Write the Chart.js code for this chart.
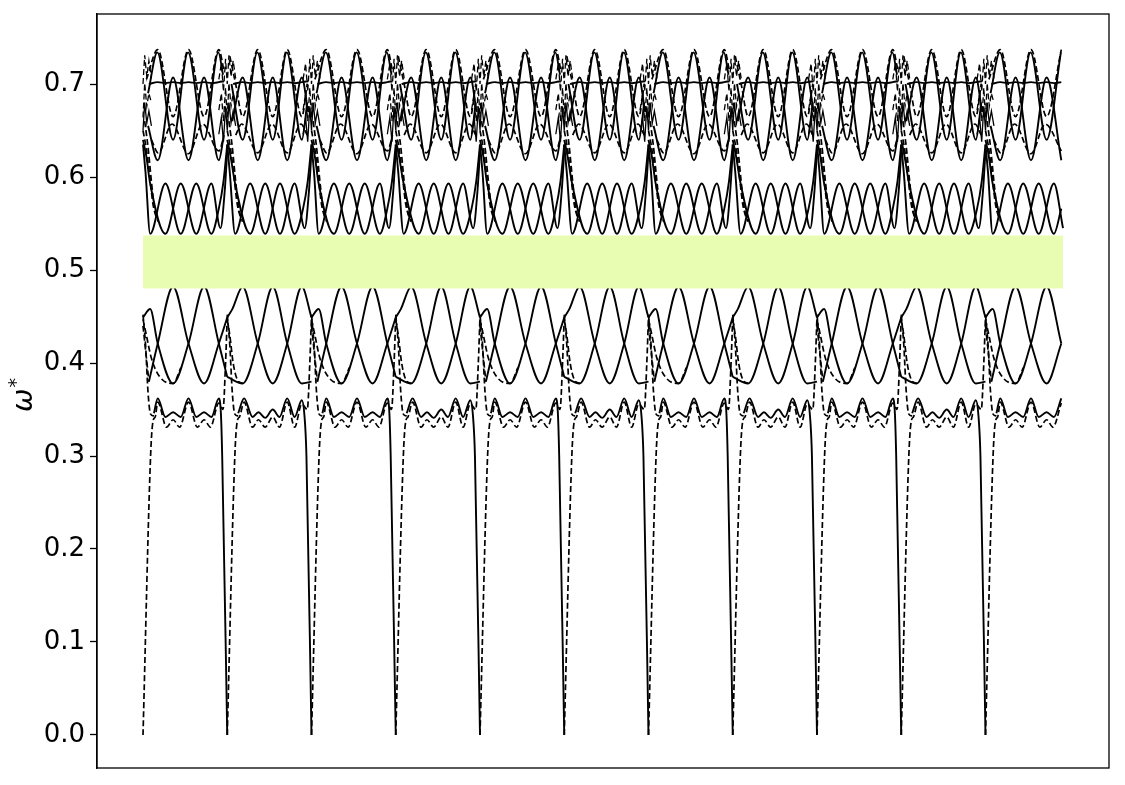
<!DOCTYPE html>
<html>
<head>
<meta charset="utf-8">
<script src="https://cdn.jsdelivr.net/npm/chart.js@4.4.1/dist/chart.umd.min.js"></script>
<style>
html,body{margin:0;padding:0;background:#fff;}
#wrap{width:1125px;height:785px;position:relative;}
</style>
</head>
<body>
<div id="wrap"><canvas id="c"></canvas></div>
<script>
// ---------------- DATA ----------------
// x unit = one repeating cell; 11 cells, alternating shapes A and B; data ends at 10.92
const CELL_TYPES = ['A','B','A','B','A','B','A','B','A','B','A'];
const X_END = 10.92;
const Y_TICKS = [0.0, 0.1, 0.2, 0.3, 0.4, 0.5, 0.6, 0.7];
const GAP_BAND = [0.48, 0.537];   // shaded band (low, high)
const Y_LABEL = ['ω', '*'];       // symbol and its superscript

// Cell A bands: [t within cell, omega*]
const A_TD  = [[0.04,0.705],[0.175,0.737],[0.357,0.665],[0.54,0.737],[0.725,0.665],[0.9,0.737],[0.96,0.715]];
const A_TS  = [[0.06,0.69],[0.17,0.734],[0.357,0.64],[0.535,0.734],[0.725,0.64],[0.895,0.734],[0.95,0.71]];
const A_F   = [[0.07,0.70],[0.175,0.702],[0.266,0.701],[0.357,0.702],[0.448,0.701],[0.54,0.702],[0.632,0.701],[0.725,0.702],[0.812,0.701],[0.9,0.702],[0.96,0.703]];
const A_M1  = [[0.06,0.655],[0.175,0.618],[0.357,0.707],[0.54,0.618],[0.725,0.707],[0.9,0.618],[0.96,0.645]];
const A_H   = [[0.1,0.64],[0.18,0.626],[0.345,0.657],[0.54,0.625],[0.71,0.657],[0.9,0.628],[0.95,0.64]];
const A_B1  = [[0,0.635],[0.03,0.605],[0.085,0.539],[0.266,0.593],[0.448,0.539],[0.632,0.593],[0.812,0.539],[0.9,0.566],[0.955,0.595],[1.0,0.635]];
const A_B2  = [[0,0.64],[0.04,0.622],[0.085,0.593],[0.266,0.539],[0.448,0.593],[0.632,0.539],[0.812,0.593],[0.92,0.545],[0.97,0.585],[1.0,0.628]];
const A_S1  = [[0,0.449],[0.085,0.458],[0.175,0.421],[0.357,0.378],[0.54,0.421],[0.725,0.482],[0.9,0.421],[1.0,0.385]];
const A_S2a = [[0,0.44],[0.035,0.41],[0.07,0.38]];
const A_S2  = [[0.07,0.38],[0.175,0.421],[0.357,0.482],[0.54,0.421],[0.725,0.378],[0.9,0.421],[1.0,0.449]];
const A_DL  = [[0,0.447],[0.04,0.43],[0.1,0.405],[0.2,0.385],[0.357,0.378],[0.45,0.395]];
const A_W1  = [[0.13,0.346],[0.175,0.362],[0.266,0.342],[0.357,0.347],[0.448,0.342],[0.54,0.362],[0.632,0.342],[0.725,0.347],[0.812,0.342],[0.9,0.362],[0.925,0.345],[0.94,0.30],[1.0,0.0]];
const A_W2  = [[0,0.0],[0.09,0.30],[0.12,0.338],[0.145,0.342],[0.175,0.358],[0.28,0.331],[0.357,0.339],[0.435,0.331],[0.54,0.358],[0.645,0.331],[0.725,0.339],[0.8,0.331],[0.9,0.357],[0.95,0.35],[0.98,0.40],[1.0,0.45]];

// Cell B bands
const B_TD  = [[0.03,0.73],[0.1,0.70],[0.183,0.665],[0.362,0.737],[0.54,0.665],[0.712,0.737],[0.885,0.665],[0.95,0.70]];
const B_TS  = [[0.05,0.70],[0.183,0.64],[0.357,0.734],[0.54,0.64],[0.707,0.734],[0.885,0.64],[0.95,0.68]];
const B_F   = [[0.07,0.70],[0.183,0.702],[0.272,0.701],[0.362,0.702],[0.451,0.701],[0.54,0.702],[0.626,0.701],[0.712,0.702],[0.80,0.701],[0.885,0.702],[0.96,0.703]];
const B_M1  = [[0.06,0.66],[0.183,0.707],[0.362,0.618],[0.54,0.707],[0.712,0.618],[0.885,0.707],[0.96,0.67]];
const B_H   = [[0.1,0.645],[0.17,0.657],[0.362,0.626],[0.53,0.657],[0.712,0.626],[0.875,0.657],[0.95,0.645]];
const B_B1  = [[0,0.635],[0.03,0.605],[0.093,0.539],[0.272,0.593],[0.451,0.539],[0.626,0.593],[0.80,0.539],[0.9,0.566],[0.955,0.595],[1.0,0.635]];
const B_B2  = [[0,0.64],[0.04,0.622],[0.093,0.593],[0.272,0.539],[0.451,0.593],[0.626,0.539],[0.80,0.593],[0.92,0.545],[0.97,0.585],[1.0,0.628]];
const B_P   = [[0,0.449],[0.06,0.458],[0.183,0.482],[0.362,0.421],[0.54,0.378],[0.712,0.421],[0.885,0.482],[1.0,0.449]];
const B_Q   = [[0,0.385],[0.183,0.378],[0.362,0.421],[0.54,0.482],[0.712,0.421],[0.885,0.378],[1.0,0.38]];
const B_DL  = [[0,0.447],[0.03,0.43],[0.07,0.40],[0.12,0.382],[0.183,0.378]];
const B_W1  = [[0.13,0.346],[0.2,0.362],[0.3,0.342],[0.37,0.347],[0.45,0.341],[0.54,0.35],[0.62,0.342],[0.712,0.362],[0.8,0.342],[0.885,0.36],[0.915,0.345],[0.94,0.30],[1.0,0.0]];
const B_W2  = [[0,0.0],[0.09,0.30],[0.12,0.338],[0.145,0.342],[0.2,0.358],[0.3,0.331],[0.37,0.339],[0.45,0.331],[0.54,0.342],[0.62,0.331],[0.712,0.358],[0.8,0.331],[0.885,0.356],[0.95,0.35],[0.98,0.40],[1.0,0.45]];

// Shared cell-start drops
const DD1   = [[0,0.65],[0.04,0.63],[0.08,0.60],[0.12,0.57],[0.16,0.556]];
const DD2   = [[0.02,0.66],[0.06,0.632],[0.1,0.595],[0.14,0.565],[0.18,0.552]];
const DDL   = [[0,0.452],[0.03,0.42],[0.06,0.368],[0.09,0.345],[0.13,0.343]];

// Jagged lines around each cell boundary (offset from boundary, omega*)
const NOISE_OFF = [-0.1,-0.07,-0.045,-0.02,0,0.02,0.045,0.07,0.1];
const NOISE_1 = [0.705,0.722,0.692,0.727,0.700,0.731,0.708,0.725,0.706];
const NOISE_2 = [0.672,0.690,0.660,0.696,0.664,0.701,0.676,0.690,0.680];
const NOISE_3 = [0.646,0.664,0.638,0.676,0.650,0.680,0.658,0.671,0.655];

// ---------------- STYLE MAP ----------------
const CELL_BANDS = {
  A: [[A_TD,'d'],[A_TS,'s'],[A_F,'s'],[A_M1,'s'],[A_H,'d'],[A_B1,'s'],[A_B2,'s'],[DD1,'d'],[DD2,'d'],
      [A_S1,'s'],[A_S2a,'d'],[A_S2,'s'],[A_DL,'d'],[DDL,'d'],[A_W1,'s'],[A_W2,'d']],
  B: [[B_TD,'d'],[B_TS,'s'],[B_F,'s'],[B_M1,'s'],[B_H,'d'],[B_B1,'s'],[B_B2,'s'],[DD1,'d'],[DD2,'d'],
      [B_P,'s'],[B_Q,'s'],[B_DL,'d'],[DDL,'d'],[B_W1,'s'],[B_W2,'d']]
};
const NOISE_BANDS = [[NOISE_1,'d'],[NOISE_2,'d'],[NOISE_3,'s']];

function lineDs(points, kind, smooth){
  return {
    data: points, borderColor:'#000', borderWidth: kind==='s'?1.9:1.7,
    borderDash: kind==='s'?[]:[6,3], pointRadius:0, fill:false,
    cubicInterpolationMode: smooth?'monotone':'default', tension:0
  };
}

const datasets = [];
// shaded band
datasets.push({data:[{x:0,y:GAP_BAND[0]},{x:X_END,y:GAP_BAND[0]}], borderWidth:0, borderColor:'rgba(0,0,0,0)', pointRadius:0, fill:false});
datasets.push({data:[{x:0,y:GAP_BAND[1]},{x:X_END,y:GAP_BAND[1]}], borderWidth:0, borderColor:'rgba(0,0,0,0)', pointRadius:0, fill:'-1', backgroundColor:'rgb(233,253,178)'});

CELL_TYPES.forEach((type,k)=>{
  CELL_BANDS[type].forEach(([arr,kind])=>{
    const pts = arr.filter(p=>k+p[0] <= X_END+1e-9).map(p=>({x:k+p[0], y:p[1]}));
    if (pts.length>1) datasets.push(lineDs(pts, kind, true));
  });
});
CELL_TYPES.forEach((type,k)=>{
  NOISE_BANDS.forEach(([vals,kind])=>{
    const pts = [];
    NOISE_OFF.forEach((o,i)=>{ const x=k+o; if (x>=0 && x<=X_END) pts.push({x:x, y:vals[i]}); });
    if (pts.length>1) { const d = lineDs(pts, kind, false); d.borderWidth = 1.3; datasets.push(d); }
  });
});

const framePlugin = {
  id:'frame',
  afterDraw(chart){
    const {ctx, chartArea:a} = chart;
    ctx.save(); ctx.strokeStyle='#000'; ctx.lineWidth=1.3;
    ctx.strokeRect(a.left, a.top, a.right-a.left, a.bottom-a.top);
    // y-axis label: omega with superscript star, rotated
    const cy = (a.top + a.bottom) / 2;
    ctx.translate(32, cy);
    ctx.rotate(-Math.PI/2);
    ctx.fillStyle = '#000';
    ctx.textBaseline = 'alphabetic';
    ctx.textAlign = 'left';
    ctx.font = 'italic 28px "DejaVu Sans"';
    const w1 = ctx.measureText(Y_LABEL[0]).width;
    ctx.font = '19px "DejaVu Sans"';
    const w2 = ctx.measureText(Y_LABEL[1]).width;
    const x0 = -(w1 + w2 + 1) / 2 - 4;
    ctx.font = 'italic 28px "DejaVu Sans"';
    ctx.fillText(Y_LABEL[0], x0, 0);
    ctx.font = '19px "DejaVu Sans"';
    ctx.fillText(Y_LABEL[1], x0 + w1 + 1, -10);
    ctx.restore();
  }
};

new Chart(document.getElementById('c'), {
  type:'line',
  data:{datasets},
  options:{
    responsive:true, maintainAspectRatio:false, animation:false,
    layout:{padding:{left:4,right:16,top:14,bottom:17}},
    plugins:{legend:{display:false}, tooltip:{enabled:false}},
    scales:{
      x:{type:'linear', min:-0.546, max:11.466, display:false},
      y:{type:'linear', min:-0.0355, max:0.7753,
         afterBuildTicks:s=>{ s.ticks = Y_TICKS.map(v=>({value:v})); },
         afterFit:s=>{ s.width = 93; s.paddingTop = 0; s.paddingBottom = 0; },
         ticks:{font:{family:'DejaVu Sans', size:26}, color:'#000', padding:5, callback:v=>Number(v).toFixed(1)},
         grid:{drawOnChartArea:false, drawTicks:true, tickLength:7, tickColor:'#000', tickWidth:1.3},
         border:{display:true, color:'#000', width:1.3},
         title:{display:false}
      }
    }
  },
  plugins:[framePlugin]
});
</script>
</body>
</html>
